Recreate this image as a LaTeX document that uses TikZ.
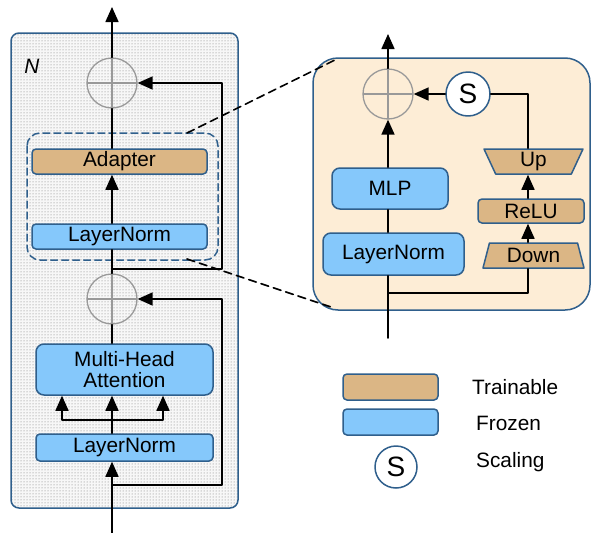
\documentclass[tikz,border=0pt]{standalone}
\usepackage{fontspec}
\setmainfont{Liberation Sans}
\usetikzlibrary{arrows.meta,patterns,shapes.geometric}
\definecolor{edgeblue}{HTML}{2F5F8C}
\definecolor{frozenblue}{HTML}{85C8FB}
\definecolor{trainbrown}{HTML}{DBB685}
\definecolor{peach}{HTML}{FDEDD6}
\definecolor{dotgray}{HTML}{F7F7F7}
\tikzset{
  blk/.style={rectangle, rounded corners=4pt, draw=edgeblue, line width=1.5pt,
    inner sep=0pt, font=\fontsize{20.8}{24}\selectfont},
  frozen/.style={blk, fill=frozenblue},
  trainable/.style={blk, fill=trainbrown},
  trap/.style={trapezium, trapezium stretches body, draw=edgeblue, fill=trainbrown,
    line width=1.5pt, inner sep=0pt, font=\fontsize{20.8}{24}\selectfont},
  addnode/.style={circle, draw=gray!80, line width=1.3pt, minimum size=50pt, inner sep=0pt,
    path picture={\draw[gray!80, line width=1.3pt]
      (path picture bounding box.north) -- (path picture bounding box.south)
      (path picture bounding box.west) -- (path picture bounding box.east);}},
  scalenode/.style={circle, draw=edgeblue, fill=white, line width=1.5pt, minimum size=44pt,
    inner sep=0pt, font=\fontsize{28}{30}\selectfont},
  lbl/.style={anchor=west, inner sep=0pt, font=\fontsize{20.8}{24}\selectfont},
}
\begin{document}
\begin{tikzpicture}[line cap=round,line join=round,>={Triangle[length=15pt,width=13pt]},x=1pt,y=-1pt]
    \useasboundingbox (0,0) rectangle (592,533);
    % left block
    \draw[draw=edgeblue, line width=1.5pt, rounded corners=8pt, preaction={fill=dotgray},
      pattern=dots, pattern color=black!55] (11,33) rectangle (238,508);
    \node[inner sep=0pt, font=\fontsize{20.8}{24}\selectfont\itshape] (nlab) at (32,66) {N};
    \node[addnode] (add1) at (112,83) {};
    \draw[edgeblue, line width=1.5pt, dashed, dash pattern=on 7pt off 4pt, rounded corners=13pt]
      (27,133) rectangle (218,260);
    \node[trainable, minimum width=175pt, minimum height=25pt] (adapter) at (119.5,161.5) {Adapter};
    \node[frozen, minimum width=175pt, minimum height=25pt] (ln1) at (119.5,236.5) {LayerNorm};
    \node[addnode] (add2) at (112,299) {};
    \node[frozen, rounded corners=8pt, minimum width=177pt, minimum height=51pt, align=center]
      (mha) at (124.5,369.5) {Multi-Head\\[-3pt]Attention};
    \node[frozen, minimum width=177pt, minimum height=27pt] (ln2) at (124.5,447.5) {LayerNorm};
    \coordinate (in1) at (112,533);
    \coordinate (out1) at (112,7);
    \coordinate (res1) at (112,269);
    \coordinate (res2) at (112,485);
    \coordinate (fork) at (112,420);
    \begin{scope}[line width=1.6pt]
    \draw[->] (in1) -- (ln2.south -| in1);
    \draw[->] (ln2.north -| in1) -- (mha.south -| in1);
    \draw[->] (fork) -- (62,420) -- (mha.south -| 62,0);
    \draw[->] (fork) -- (163,420) -- (mha.south -| 163,0);
    \draw (mha.north -| in1) -- (add2.south);
    \draw[->] (res2) -- (222,485) -- (222,299) -- (add2.east);
    \draw (add2.north) -- (ln1.south -| in1);
    \draw[->] (ln1.north -| in1) -- (adapter.south -| in1);
    \draw (adapter.north -| in1) -- (add1.south);
    \draw[->] (res1) -- (222,269) -- (222,83) -- (add1.east);
    \draw[->] (add1.north) -- (out1);
    \end{scope}
    % right block
    \draw[draw=edgeblue, line width=1.5pt, rounded corners=25pt, fill=peach] (313,58) rectangle (590,310);
    \node[addnode] (add3) at (388,94) {};
    \node[scalenode] (scl) at (468,94) {S};
    \node[trap, shape border rotate=180, trapezium angle=58, minimum width=99pt, minimum height=25pt]
      (up) at (533.5,161.5) {Up};
    \node[trainable, minimum width=106pt, minimum height=24pt] (relu) at (531,211) {ReLU};
    \node[trap, trapezium angle=66, minimum width=101pt, minimum height=25pt]
      (down) at (533.5,255.5) {Down};
    \node[frozen, rounded corners=8pt, minimum width=116pt, minimum height=41pt] (mlp) at (390,188.5) {MLP};
    \node[frozen, rounded corners=8pt, minimum width=141pt, minimum height=42pt] (ln3) at (393.5,254) {LayerNorm};
    \coordinate (in2) at (388,338);
    \coordinate (out2) at (388,34);
    \coordinate (res3) at (388,293);
    \begin{scope}[line width=1.6pt]
    \draw (in2) -- (ln3.south -| in2);
    \draw (ln3.north -| in2) -- (mlp.south -| in2);
    \draw[->] (mlp.north -| in2) -- (add3.south);
    \draw[->] (add3.north) -- (out2);
    \draw (res3) -- (528,293) -- (down.south -| 528,0);
    \draw[->] (down.north -| 528,0) -- (relu.south -| 528,0);
    \draw[->] (relu.north -| 528,0) -- (up.south -| 528,0);
    \draw (up.north -| 528,0) -- (528,94) -- (scl.east);
    \draw[->] (scl.west) -- (add3.east);
    \end{scope}
    % zoom lines
    \coordinate (zt1) at (187,133);
    \coordinate (zt2) at (337,59);
    \coordinate (zb1) at (187,259);
    \coordinate (zb2) at (331,307);
    \draw[line width=1.6pt, dashed, dash pattern=on 8pt off 5pt] (zt1) -- (zt2);
    \draw[line width=1.6pt, dashed, dash pattern=on 8pt off 5pt] (zb1) -- (zb2);
    % legend
    \node[trainable, minimum width=95pt, minimum height=26pt] (keyT) at (390.5,387) {};
    \node[frozen, minimum width=95pt, minimum height=26pt] (keyF) at (390.5,422) {};
    \node[scalenode, minimum size=42pt] (keyS) at (396,467) {S};
    \node[lbl] (txtT) at (472,387) {Trainable};
    \node[lbl] (txtF) at (476,423) {Frozen};
    \node[lbl] (txtS) at (476,462) {Scaling};
\end{tikzpicture}
\end{document}
